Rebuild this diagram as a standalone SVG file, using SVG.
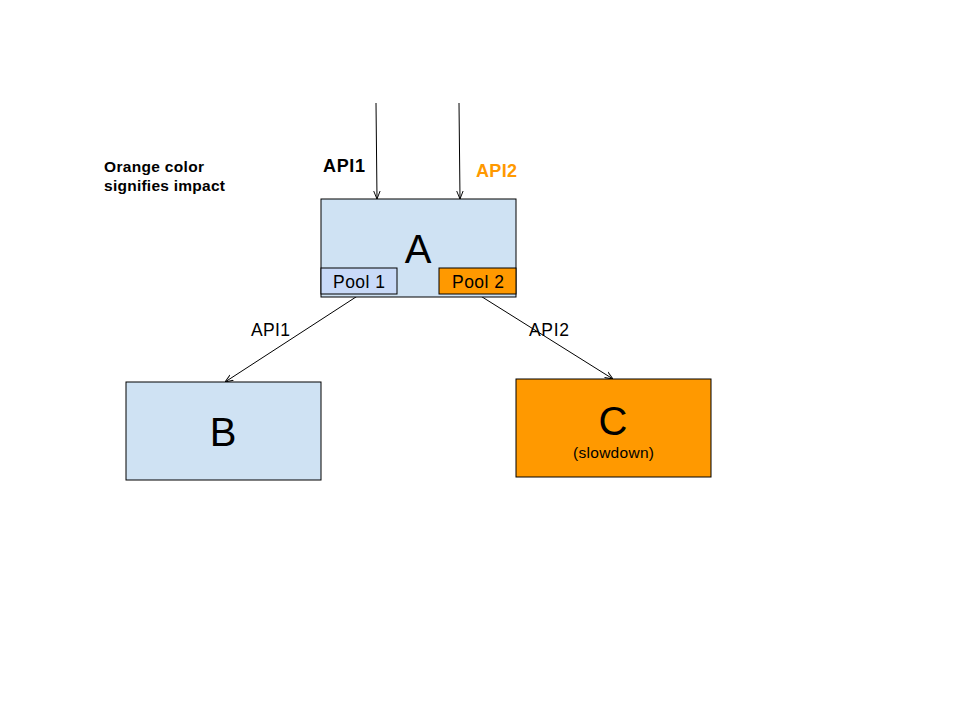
<svg xmlns="http://www.w3.org/2000/svg" width="960" height="720" viewBox="0 0 960 720">
<style>
text{font-family:"Liberation Sans",Arial,sans-serif;fill:#000}
.box{stroke:#000;stroke-width:1}
.blue{fill:#cfe2f3}
.orange{fill:#ff9900}
.conn{stroke:#000;stroke-width:1;fill:none;marker-end:url(#ah)}
</style>
<defs>
<marker id="ah" viewBox="0 0 10 10" refX="10" refY="5" markerWidth="8" markerHeight="8" markerUnits="userSpaceOnUse" orient="auto">
<path d="M0,1 L10,5 L0,9" fill="none" stroke="#000" stroke-width="1.2"/>
</marker>
</defs>
<rect width="960" height="720" fill="#fff"/>
<text x="104" y="172" font-size="15.5" font-weight="bold" textLength="100">Orange color</text>
<text x="104" y="191" font-size="15.5" font-weight="bold" textLength="121">signifies impact</text>
<g id="connectors">
<line class="conn" x1="376" y1="103" x2="377" y2="199"/>
<line class="conn" x1="459" y1="103" x2="460" y2="199"/>
<line class="conn" x1="359" y1="295" x2="225" y2="382"/>
<line class="conn" x1="479" y1="295" x2="613" y2="379"/>
<text x="323" y="172" font-size="18" font-weight="bold" textLength="42">API1</text>
<text x="476" y="177" font-size="18" font-weight="bold" textLength="41" style="fill:#ff9900">API2</text>
<text x="251" y="336" font-size="17.5" textLength="39">API1</text>
<text x="529" y="336" font-size="17.5" textLength="40">API2</text>
</g>
<g id="A">
<rect class="box blue" x="321" y="199" width="195" height="98"/>
<text x="418" y="263" font-size="40" text-anchor="middle">A</text>
</g>
<g id="pool1">
<rect class="box" fill="#c9daf8" x="321" y="268" width="76" height="26"/>
<text x="333" y="288" font-size="17.5" textLength="52">Pool 1</text>
</g>
<g id="pool2">
<rect class="box orange" x="439" y="268" width="77" height="26"/>
<text x="452" y="288" font-size="17.5" textLength="52">Pool 2</text>
</g>
<g id="B">
<rect class="box blue" x="126" y="382" width="195" height="98"/>
<text x="223" y="446" font-size="40" text-anchor="middle">B</text>
</g>
<g id="C">
<rect class="box orange" x="516" y="379" width="195" height="98"/>
<text x="613" y="435" font-size="40" text-anchor="middle">C</text>
<text x="573" y="458" font-size="15.5" textLength="81">(slowdown)</text>
</g>
</svg>
